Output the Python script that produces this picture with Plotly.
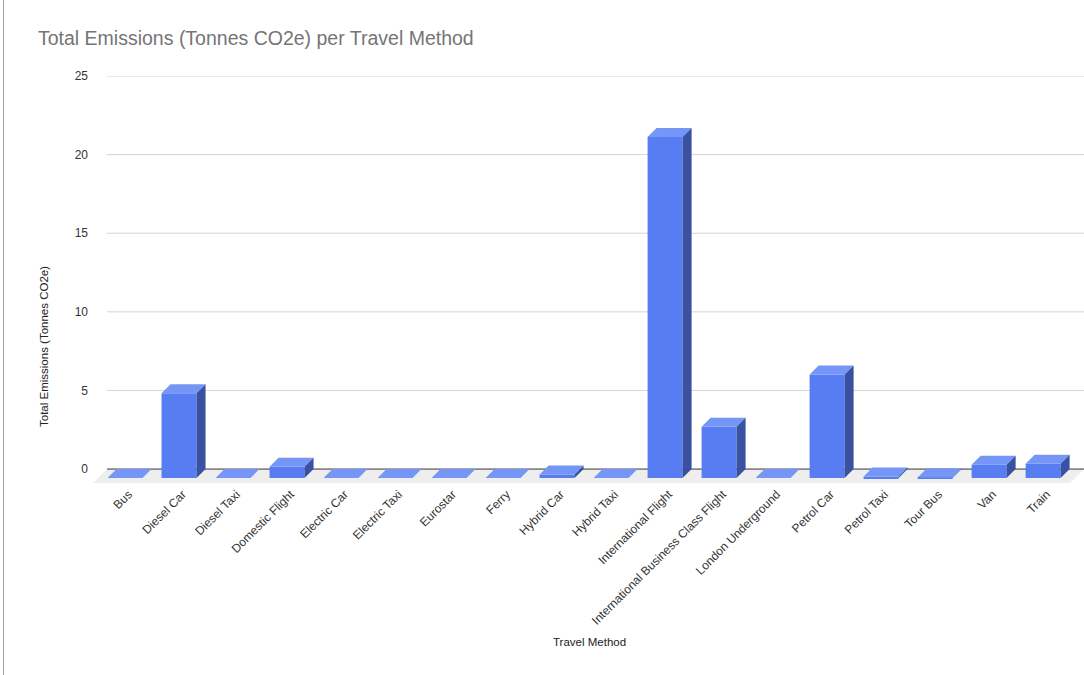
import plotly.graph_objects as go

# ---- data -------------------------------------------------------------
categories = [
    "Bus", "Diesel Car", "Diesel Taxi", "Domestic Flight", "Electric Car",
    "Electric Taxi", "Eurostar", "Ferry", "Hybrid Car", "Hybrid Taxi",
    "International Flight", "International Business Class Flight",
    "London Underground", "Petrol Car", "Petrol Taxi", "Tour Bus", "Van", "Train",
]
emissions = [0, 5.4, 0, 0.72, 0, 0, 0, 0, 0.22, 0, 21.7, 3.27, 0, 6.58, 0.1, 0.04, 0.85, 0.91]
y_ticks = [0, 5, 10, 15, 20, 25]

# ---- pseudo-3D geometry (axis units) ---------------------------------
HALF = 0.324        # half width of a bar face
DX, DY = 0.167, 0.572   # depth of each bar (front face offset)
FLOOR_DX, FLOOR_DY = 0.259, 0.89
X_MIN, X_MAX = -0.76, 17.59
WALL_LEFT = -0.5
LABEL_SHIFT = 0.1   # category labels sit a little left of the bar centre

FRONT = "#587df3"
TOP = "#7596f6"
SIDE = "#3a51a2"
FONT = "Arial, Liberation Sans, sans-serif"

xs = list(range(len(categories)))

fig = go.Figure()

# front faces
fig.add_trace(go.Bar(
    x=[i - DX for i in xs], y=emissions, base=-DY, width=2 * HALF,
    marker=dict(color=FRONT, line=dict(width=0)),
    hoverinfo="skip", showlegend=False,
))

# top faces
tx, ty = [], []
for i, v in zip(xs, emissions):
    tx += [i - DX - HALF, i - DX + HALF, i + HALF, i - HALF, i - DX - HALF, None]
    ty += [v - DY, v - DY, v, v, v - DY, None]
fig.add_trace(go.Scatter(
    x=tx, y=ty, mode="lines", fill="toself", fillcolor=TOP,
    line=dict(width=0, color=TOP), hoverinfo="skip", showlegend=False,
))

# side faces
sx, sy = [], []
for i, v in zip(xs, emissions):
    sx += [i - DX + HALF, i - DX + HALF, i + HALF, i + HALF, i - DX + HALF, None]
    sy += [-DY, v - DY, v, 0, -DY, None]
fig.add_trace(go.Scatter(
    x=sx, y=sy, mode="lines", fill="toself", fillcolor=SIDE,
    line=dict(width=0, color=SIDE), hoverinfo="skip", showlegend=False,
))

shapes = []
# floor
shapes.append(dict(
    type="path", xref="x", yref="y", layer="below",
    path=f"M {WALL_LEFT},0 L {X_MAX},0 L {X_MAX - FLOOR_DX},{-FLOOR_DY} "
         f"L {WALL_LEFT - FLOOR_DX},{-FLOOR_DY} Z",
    fillcolor="#eeeeee", line=dict(width=0),
))
# back-wall gridlines
for t in y_ticks:
    shapes.append(dict(
        type="line", xref="x", yref="y", layer="below",
        x0=WALL_LEFT, x1=X_MAX, y0=t, y1=t,
        line=dict(color="#333333" if t == 0 else "#d4d4d4", width=1),
    ))
# page edge on the left
shapes.append(dict(
    type="line", xref="paper", yref="paper",
    x0=(3.5 - 93) / 991, x1=(3.5 - 93) / 991, y0=-191 / 408, y1=1 + 76 / 408,
    line=dict(color="#a6a6a6", width=1),
))

fig.update_layout(
    width=1084, height=675, autosize=False,
    margin=dict(l=93, r=0, t=76, b=191),
    paper_bgcolor="white", plot_bgcolor="white",
    font=dict(family=FONT, color="#222222"),
    title=dict(
        text="Total Emissions (Tonnes CO2e) per Travel Method",
        font=dict(size=19.5, color="#757575", family=FONT),
        xref="container", yref="container",
        x=38 / 1084, xanchor="left", y=1 - 38 / 675, yanchor="middle",
    ),
    xaxis=dict(
        range=[X_MIN, X_MAX], tickvals=[i - LABEL_SHIFT for i in xs],
        ticktext=categories,
        tickangle=-45, tickfont=dict(size=12, color="#333333"),
        showgrid=False, zeroline=False, showline=False, ticks="",
        automargin=False,
    ),
    yaxis=dict(
        range=[-0.95, 25], tickvals=y_ticks,
        tickfont=dict(size=12, color="#333333"),
        showgrid=False, zeroline=False, showline=False, ticks="",
        ticklabelstandoff=4, automargin=False,
    ),
    shapes=shapes,
    annotations=[
        dict(text="Total Emissions (Tonnes CO2e)", textangle=-90,
             xref="paper", yref="paper",
             x=(44 - 93) / 991, y=(484 - 347) / 408,
             xanchor="center", yanchor="middle", showarrow=False,
             font=dict(size=11.5, color="#222222", family=FONT)),
        dict(text="Travel Method", xref="paper", yref="paper",
             x=(589 - 93) / 991, y=(484 - 642) / 408,
             xanchor="center", yanchor="middle", showarrow=False,
             font=dict(size=11.5, color="#222222", family=FONT)),
    ],
    showlegend=False,
)

fig.write_html("out.html")
